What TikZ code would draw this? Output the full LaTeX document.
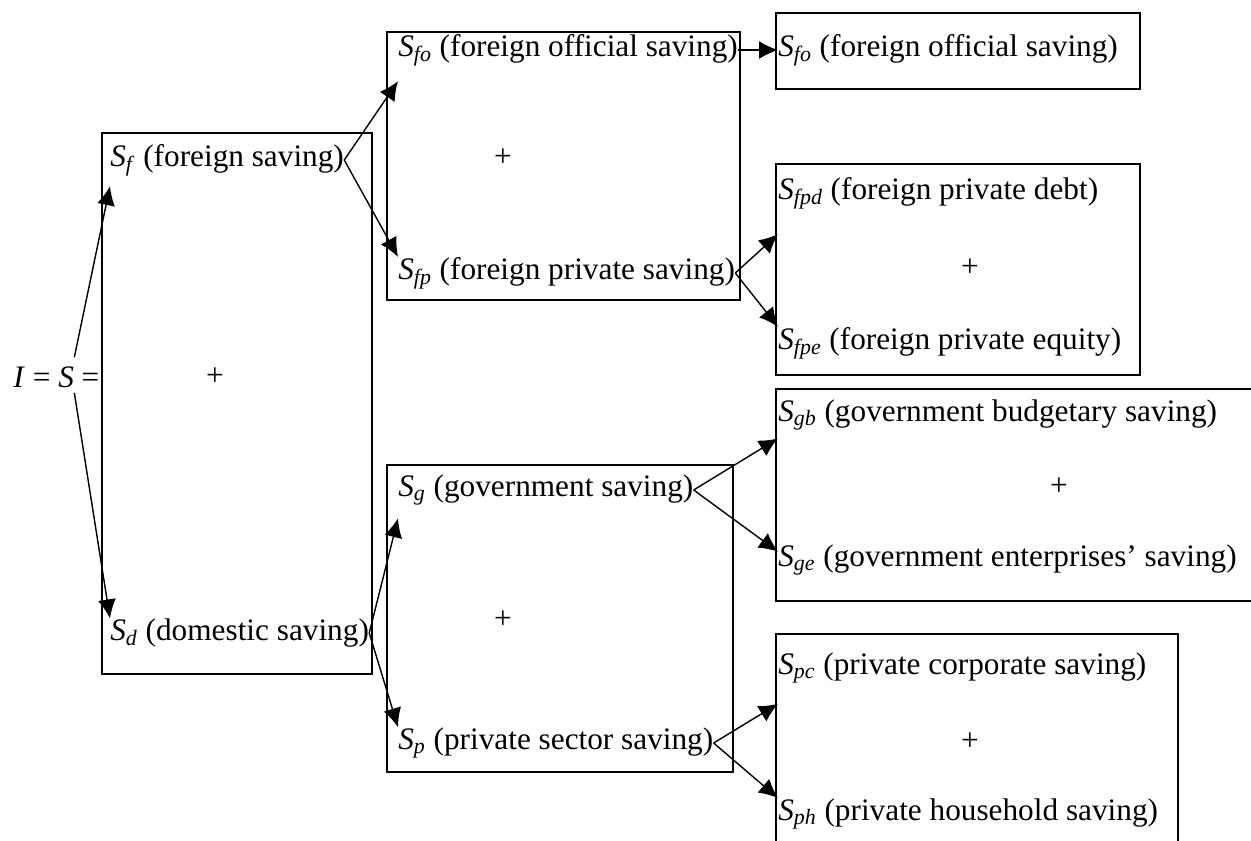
\documentclass[tikz,border=0pt]{standalone}
\usepackage{fontspec}
\setmainfont{Liberation Serif}
\usepackage{tikz}
\usetikzlibrary{arrows.meta}
\newcommand{\Ssub}[1]{\textit{S}\textsubscript{\textit{#1}}}

\begin{document}
\begin{tikzpicture}[
        x=0.02cm, y=-0.02cm,
        every node/.style={font=\fontsize{17.8}{21}\selectfont},
        lbl/.style={anchor=west, inner sep=0pt},
        plus/.style={inner sep=0pt},
        box/.style={line width=1pt},
        arrow/.style={-{Latex[length=0.38cm,width=0.36cm]}, line width=0.8pt}
    ]
    \useasboundingbox (0,0) rectangle (1251,840);
    \clip (0,0) rectangle (1251,840);

    % Boxes
    \draw[box] (102,133) rectangle (372,674);
    \draw[box] (387,32) rectangle (740,300);
    \draw[box] (387,465) rectangle (733,772);
    \draw[box] (776,13) rectangle (1140,89);
    \draw[box] (776,164) rectangle (1140,375);
    \draw[box] (776,389) rectangle (1260,601);
    \draw[box] (776,634) rectangle (1178,860);

    % Nodes
    \node[lbl] (iss) at (13,377) {\textit{I} = \textit{S} =};

    \node[lbl] (sf) at (110,160) {\Ssub{f} (foreign saving)};
    \node[lbl] (sd) at (110,633) {\Ssub{d} (domestic saving)};
    \node[plus] (plusfd) at (215,377) {+};

    \node[lbl] (sfo) at (398,50) {\Ssub{fo} (foreign official saving)};
    \node[lbl] (sfp) at (398,273) {\Ssub{fp} (foreign private saving)};
    \node[plus] (plusf) at (503,158) {+};

    \node[lbl] (sg) at (398,490) {\Ssub{g} (government saving)};
    \node[lbl] (sp) at (398,743) {\Ssub{p} (private sector saving)};
    \node[plus] (plusd) at (503,620) {+};

    \node[lbl] (sfoo) at (778,50) {\Ssub{fo} (foreign official saving)};

    \node[lbl] (sfpd) at (778,193) {\Ssub{fpd} (foreign private debt)};
    \node[lbl] (sfpe) at (778,343) {\Ssub{fpe} (foreign private equity)};
    \node[plus] (plusfp) at (970,268) {+};

    \node[lbl] (sgb) at (778,415) {\Ssub{gb} (government budgetary saving)};
    \node[lbl] (sge) at (778,560) {\Ssub{ge} (government enterprises’ saving)};
    \node[plus] (plusg) at (1059,487) {+};

    \node[lbl] (spc) at (778,668) {\Ssub{pc} (private corporate saving)};
    \node[lbl] (sph) at (778,814) {\Ssub{ph} (private household saving)};
    \node[plus] (plusp) at (970,742) {+};

    % Arrows
    \draw[arrow] ([xshift=0.36cm,yshift=0.18cm]iss.north) -- ([yshift=-0.2cm]sf.south west);
    \draw[arrow] ([xshift=0.36cm,yshift=-0.1cm]iss.south) -- (sd.north west);

    \draw[arrow] (sf.east) -- ([yshift=-0.3cm]sfo.south west);
    \draw[arrow] (sf.east) -- (sfp.north west);
    \draw[arrow] (sd.east) -- ([yshift=-0.25cm]sg.south west);
    \draw[arrow] (sd.east) -- (sp.north west);

    \draw[arrow] (sfo.east) -- (sfoo.west);
    \draw[arrow] (sfp.east) -- ([yshift=-0.5cm]sfpd.south west);
    \draw[arrow] (sfp.east) -- (sfpe.north west);
    \draw[arrow] (sg.east) -- ([yshift=-0.15cm]sgb.south west);
    \draw[arrow] (sg.east) -- ([yshift=-0.15cm]sge.north west);
    \draw[arrow] (sp.east) -- ([yshift=-0.4cm]spc.south west);
    \draw[arrow] (sp.east) -- (sph.north west);

\end{tikzpicture}
\end{document}
